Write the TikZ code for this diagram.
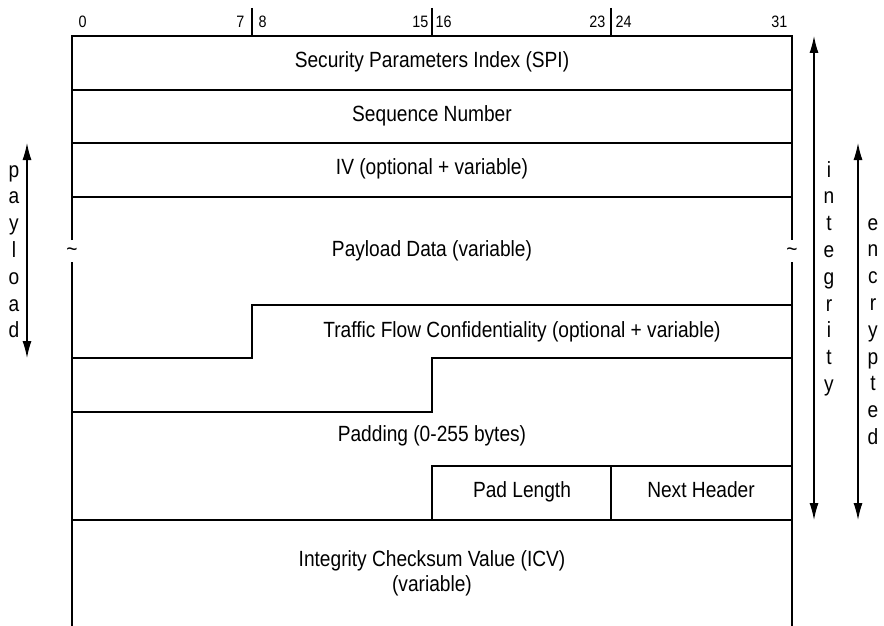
\documentclass[tikz,border=0pt]{standalone}
\usepackage{fontspec}
\setmainfont[FakeStretch=0.87]{Liberation Sans}
\usetikzlibrary{arrows.meta}

\begin{document}
\begin{tikzpicture}[x=1pt,y=-1pt,line width=1.4pt,
  every node/.style={inner sep=0pt,font=\fontsize{22}{25}\selectfont},
  field/.style={text height=0.72em,text depth=0pt},
  bitnum/.style={font=\fontsize{16.5}{18}\selectfont},
  letter/.style={anchor=base},
  span/.style={{Latex[length=17pt,width=9pt]}-{Latex[length=17pt,width=9pt]},line width=1.2pt}]
\useasboundingbox (0,0) rectangle (884,626);

% outer frame, broken at the tildes
\draw (72,240) -- (72,36) -- (792,36) -- (792,240);
\draw (72,262) -- (72,626);
\draw (792,262) -- (792,626);
\node (tildeL) at (72,252) {\textasciitilde};
\node (tildeR) at (792,252) {\textasciitilde};

% bit ruler
\foreach \x in {252,432,611}
  \draw (\x,8) -- (\x,36);
\node[bitnum,anchor=base west] (b0) at (78,28) {0};
\node[bitnum,anchor=base east] (b7) at (245,28) {7};
\node[bitnum,anchor=base west] (b8) at (258,28) {8};
\node[bitnum,anchor=base east] (b15) at (429,28) {15};
\node[bitnum,anchor=base west] (b16) at (435,28) {16};
\node[bitnum,anchor=base east] (b23) at (606,28) {23};
\node[bitnum,anchor=base west] (b24) at (615,28) {24};
\node[bitnum,anchor=base east] (b31) at (788,28) {31};

% fields
\draw (72,90) -- (792,90);
\draw (72,143) -- (792,143);
\draw (72,197) -- (792,197);
\draw (72,358) -- (252,358) -- (252,305) -- (792,305);
\draw (72,412) -- (432,412) -- (432,358) -- (792,358);
\draw (432,520) -- (432,466) -- (792,466);
\draw (611,466) -- (611,520);
\draw (72,520) -- (792,520);

\node[field] (spi) at (432,63.5) {Security Parameters Index (SPI)};
\node[field] (seq) at (432,117.5) {Sequence Number};
\node[field] (iv) at (432,171) {IV (optional + variable)};
\node[field] (data) at (432,253) {Payload Data (variable)};
\node[field] (tfc) at (522,333.5) {Traffic Flow Confidentiality (optional + variable)};
\node[field] (pad) at (432,438) {Padding (0-255 bytes)};
\node[field] (padlen) at (522,494) {Pad Length};
\node[field] (next) at (701,494) {Next Header};
\node[field] (icv) at (432,562.5) {Integrity Checksum Value (ICV)};
\node[field] (icvvar) at (432,587.5) {(variable)};

% coverage arrows
\coordinate (payTop) at (27,143);
\coordinate (payBot) at (27,358);
\coordinate (intTop) at (814,36);
\coordinate (intBot) at (814,520);
\coordinate (encTop) at (858,143);
\coordinate (encBot) at (858,520);
\draw[span] (payTop) -- (payBot);
\draw[span] (intTop) -- (intBot);
\draw[span] (encTop) -- (encBot);

\foreach \c [count=\i from 0] in {p,a,y,l,o,a,d}
  \node[letter] (pay-\i) at (14,{177+26.8*\i}) {\c};
\foreach \c [count=\i from 0] in {i,n,t,e,g,r,i,t,y}
  \node[letter] (int-\i) at (829,{177+26.8*\i}) {\c};
\foreach \c [count=\i from 0] in {e,n,c,r,y,p,t,e,d}
  \node[letter] (enc-\i) at (873,{230+26.8*\i}) {\c};
\end{tikzpicture}
\end{document}
